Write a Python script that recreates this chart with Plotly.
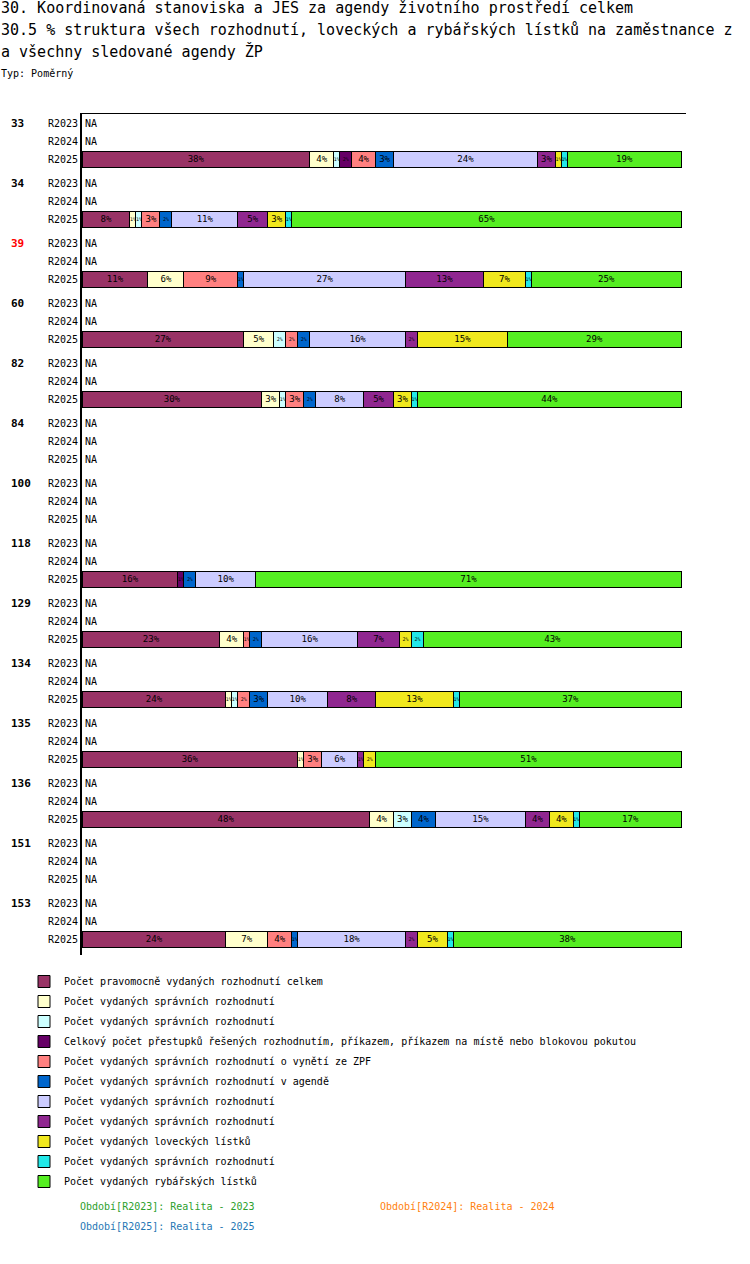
import plotly.graph_objects as go

# skupiny (kódy) a období
groups = ["33", "34", "39", "60", "82", "84", "100", "118", "129", "134", "135", "136", "151", "153"]
periods = ["R2023", "R2024", "R2025"]

series_names = [
    "Počet pravomocně vydaných rozhodnutí celkem",
    "Počet vydaných správních rozhodnutí",
    "Počet vydaných správních rozhodnutí",
    "Celkový počet přestupků řešených rozhodnutím, příkazem, příkazem na místě nebo blokovou pokutou",
    "Počet vydaných správních rozhodnutí o vynětí ze ZPF",
    "Počet vydaných správních rozhodnutí v agendě",
    "Počet vydaných správních rozhodnutí",
    "Počet vydaných správních rozhodnutí",
    "Počet vydaných loveckých lístků",
    "Počet vydaných správních rozhodnutí",
    "Počet vydaných rybářských lístků",
]
series_colors = ["#993366", "#FFFFCC", "#CCFFFF", "#660066", "#FF8080", "#0066CC",
                 "#CCCCFF", "#902790", "#F0E81E", "#22E8E8", "#55EE22"]

# hodnoty R2025 v % (R2023 a R2024 jsou NA), None = skupina bez dat
r2025 = {
    "33":  [38, 4, 1, 2, 4, 3, 24, 3, 1, 1, 19],
    "34":  [8, 1, 1, 0, 3, 2, 11, 5, 3, 1, 65],
    "39":  [11, 6, 0, 0, 9, 1, 27, 13, 7, 1, 25],
    "60":  [27, 5, 2, 0, 2, 2, 16, 2, 15, 0, 29],
    "82":  [30, 3, 1, 0, 3, 2, 8, 5, 3, 1, 44],
    "84":  None,
    "100": None,
    "118": [16, 0, 0, 1, 0, 2, 10, 0, 0, 0, 71],
    "129": [23, 4, 0, 0, 1, 2, 16, 7, 2, 2, 43],
    "134": [24, 1, 1, 0, 2, 3, 10, 8, 13, 1, 37],
    "135": [36, 1, 0, 0, 3, 0, 6, 1, 2, 0, 51],
    "136": [48, 4, 3, 0, 0, 4, 15, 4, 4, 1, 17],
    "151": None,
    "153": [24, 7, 0, 0, 4, 1, 18, 2, 5, 1, 38],
}
highlight = {"39": "red"}

MONO = "DejaVu Sans Mono"
L, R, T, B = 82, 64, 114, 309
W, H = 750, 1264
PW, PH = W - L - R, H - T - B


def px_x(px):
    return (px - L) / PW


def px_y(py):
    return 1 - (py - T) / PH


# pozice řádků na ose y (v pixelech plochy)
ypos, ylab = [], []
for g in range(len(groups)):
    for r in range(len(periods)):
        ypos.append(60 * g + 9 + 18 * r)
        ylab.append(periods[r])

fig = go.Figure()
for s in range(len(series_names)):
    xs = []
    for g in groups:
        vals = r2025[g]
        for r, p in enumerate(periods):
            if p == "R2025" and vals is not None and vals[s] > 0:
                xs.append(vals[s])
            else:
                xs.append(None)
    fig.add_trace(go.Bar(
        x=xs, y=ypos, orientation="h", width=16,
        name=series_names[s], legendgroup=str(s),
        marker=dict(color=series_colors[s], line=dict(color="black", width=1)),
        texttemplate="%{x:.0f}%", textposition="inside", insidetextanchor="middle",
        textangle=0, constraintext="inside",
        textfont=dict(family=MONO, size=10, color="black"),
        hoverinfo="x+name",
    ))

annotations = []
# NA popisky a čísla skupin
for g_i, g in enumerate(groups):
    for r, p in enumerate(periods):
        if p != "R2025" or r2025[g] is None:
            annotations.append(dict(x=0, y=60 * g_i + 9 + 18 * r, xref="x", yref="y",
                                    text="NA", showarrow=False, xanchor="left", xshift=1,
                                    font=dict(family=MONO, size=10, color="black")))
    annotations.append(dict(x=px_x(9), y=60 * g_i + 9, xref="paper", yref="y",
                            text="<b>%s</b>" % g, showarrow=False, xanchor="left",
                            font=dict(family=MONO, size=11, color=highlight.get(g, "black"))))

titles = [
    ("30. Koordinovaná stanoviska a JES za agendy životního prostředí celkem", 8),
    ("30.5 % struktura všech rozhodnutí, loveckých a rybářských lístků na zaměstnance z", 30),
    ("a všechny sledované agendy ŽP", 52),
]
for txt, py in titles:
    annotations.append(dict(x=px_x(0), y=px_y(py), xref="paper", yref="paper", text=txt,
                            showarrow=False, xanchor="left", yanchor="middle", xshift=-1,
                            font=dict(family=MONO, size=15, color="black")))
annotations.append(dict(x=px_x(0), y=px_y(73), xref="paper", yref="paper", text="Typ: Poměrný",
                        showarrow=False, xanchor="left", yanchor="middle", xshift=-1,
                        font=dict(family=MONO, size=10, color="black")))

period_notes = [
    ("Období[R2023]: Realita - 2023", 80, 1206, "#2CA02C"),
    ("Období[R2024]: Realita - 2024", 380, 1206, "#FF7F0E"),
    ("Období[R2025]: Realita - 2025", 80, 1226, "#1F77B4"),
]
for txt, px, py, col in period_notes:
    annotations.append(dict(x=px_x(px), y=px_y(py), xref="paper", yref="paper", text=txt,
                            showarrow=False, xanchor="left", yanchor="middle", xshift=-2,
                            font=dict(family=MONO, size=10, color=col)))

fig.update_layout(
    width=W, height=H,
    margin=dict(l=L, r=R, t=T, b=B),
    barmode="stack",
    plot_bgcolor="white", paper_bgcolor="white",
    font=dict(family=MONO, size=10, color="black"),
    xaxis=dict(range=[0, 100.8], side="top", showline=True, linecolor="black", linewidth=1,
               showgrid=False, zeroline=False, showticklabels=False, ticks="", fixedrange=True),
    yaxis=dict(range=[PH, 0], tickvals=ypos, ticktext=ylab, showline=True, linecolor="black",
               linewidth=2, showgrid=False, zeroline=False, ticks="", ticklen=0,
               tickfont=dict(family=MONO, size=10, color="black")),
    legend=dict(orientation="v", x=px_x(24), y=px_y(967), xanchor="left", yanchor="top",
                font=dict(family=MONO, size=10, color="black"), tracegroupgap=1,
                traceorder="grouped", itemclick=False),
    annotations=annotations,
    showlegend=True,
)

# bez výchozího okraje stránky, aby graf začínal v levém horním rohu
fig.write_html("out.html", config={"displayModeBar": False},
               post_script="document.body.style.margin='0';")
